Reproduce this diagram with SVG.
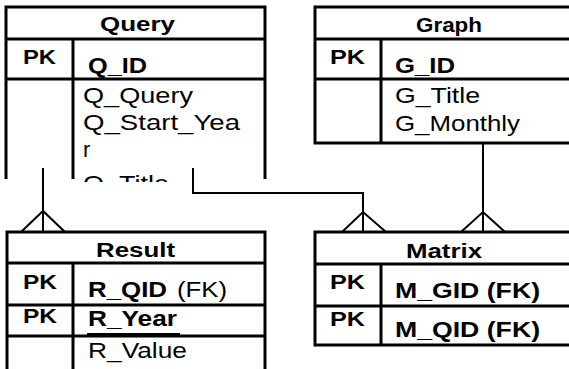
<svg xmlns="http://www.w3.org/2000/svg" width="569" height="369" viewBox="0 0 569 369">
  <style>
    .box { fill: none; stroke: #000; stroke-width: 3; }
    .ln { stroke: #000; stroke-width: 3; fill: none; }
    .conn { stroke: #000; stroke-width: 2; fill: none; }
    text { font-family: "Liberation Sans", Arial, sans-serif; fill: #000; }
    .hd { font-size: 20px; font-weight: bold; }
    .pk { font-size: 21px; font-weight: bold; }
    .key { font-size: 22px; font-weight: bold; }
    .att { font-size: 22px; }
  </style>
  <defs>
    <clipPath id="qclip">
      <rect x="0" y="0" width="300" height="179"/>
    </clipPath>
    <clipPath id="qtext">
      <rect x="0" y="0" width="300" height="182"/>
    </clipPath>
  </defs>
  <rect width="569" height="369" fill="#fff"/>

  <!-- Query entity (cut off at its lower edge) -->
  <g id="query">
    <path class="ln" clip-path="url(#qclip)" d="M6 185 V7 H265 V185 M6 39 H265 M6 79 H265 M73 39 V185"/>
    <g clip-path="url(#qtext)">
      <text class="hd" x="100" y="31" textLength="75" lengthAdjust="spacingAndGlyphs">Query</text>
      <text class="pk" x="23" y="64" textLength="33" lengthAdjust="spacingAndGlyphs">PK</text>
      <text class="key" x="88" y="73" textLength="59" lengthAdjust="spacingAndGlyphs">Q_ID</text>
      <text class="att" x="83" y="103" textLength="110" lengthAdjust="spacingAndGlyphs">Q_Query</text>
      <text class="att" x="83" y="130" textLength="157" lengthAdjust="spacingAndGlyphs">Q_Start_Yea</text>
      <text class="att" x="83" y="157">r</text>
      <text class="att" x="83" y="191" textLength="86" lengthAdjust="spacingAndGlyphs">Q_Title</text>
    </g>
  </g>

  <!-- Graph entity -->
  <g id="graph">
    <path class="ln" d="M315 7 H572 V143 H315 Z M315 39 H572 M315 79 H572 M381 39 V143"/>
    <text class="hd" x="416" y="32" textLength="66" lengthAdjust="spacingAndGlyphs">Graph</text>
    <text class="pk" x="330" y="64" textLength="35" lengthAdjust="spacingAndGlyphs">PK</text>
    <text class="key" x="395" y="73" textLength="60" lengthAdjust="spacingAndGlyphs">G_ID</text>
    <text class="att" x="395" y="103" textLength="85" lengthAdjust="spacingAndGlyphs">G_Title</text>
    <text class="att" x="395" y="131" textLength="125" lengthAdjust="spacingAndGlyphs">G_Monthly</text>
  </g>

  <!-- Result entity -->
  <g id="result">
    <path class="ln" d="M7 372 V232 H265 V372 M7 263 H265 M7 305 H265 M7 336 H265 M73 263 V372"/>
    <text class="hd" x="96" y="257" textLength="79" lengthAdjust="spacingAndGlyphs">Result</text>
    <text class="pk" x="23" y="289" textLength="34" lengthAdjust="spacingAndGlyphs">PK</text>
    <text class="key" x="88" y="297" textLength="79" lengthAdjust="spacingAndGlyphs">R_QID</text>
    <text class="att" x="177" y="297" textLength="50" lengthAdjust="spacingAndGlyphs">(FK)</text>
    <text class="pk" x="23" y="323" textLength="34" lengthAdjust="spacingAndGlyphs">PK</text>
    <text class="key" x="88" y="326" textLength="89" lengthAdjust="spacingAndGlyphs">R_Year</text>
    <line x1="87" y1="334" x2="180" y2="334" stroke="#000" stroke-width="2"/>
    <text class="att" x="88" y="358" textLength="99" lengthAdjust="spacingAndGlyphs">R_Value</text>
  </g>

  <!-- Matrix entity -->
  <g id="matrix">
    <path class="ln" d="M315 232 H572 V345 H315 Z M315 264 H572 M315 306 H572 M381 264 V345"/>
    <text class="hd" x="406" y="258" textLength="76" lengthAdjust="spacingAndGlyphs">Matrix</text>
    <text class="pk" x="330" y="289" textLength="35" lengthAdjust="spacingAndGlyphs">PK</text>
    <text class="key" x="395" y="298" textLength="145" lengthAdjust="spacingAndGlyphs">M_GID (FK)</text>
    <text class="pk" x="330" y="326" textLength="35" lengthAdjust="spacingAndGlyphs">PK</text>
    <text class="key" x="395" y="337" textLength="145" lengthAdjust="spacingAndGlyphs">M_QID (FK)</text>
  </g>

  <!-- Relationships with crow's-foot ends -->
  <g id="connectors">
    <path class="conn" d="M43 168 V232 M21 232 L43 211 L65 232"/>
    <path class="conn" d="M193 168 V193 H363 V232 M342 232 L363 212 L386 232"/>
    <path class="conn" d="M483 143 V232 M461 232 L483 212 L505 232"/>
  </g>
</svg>
